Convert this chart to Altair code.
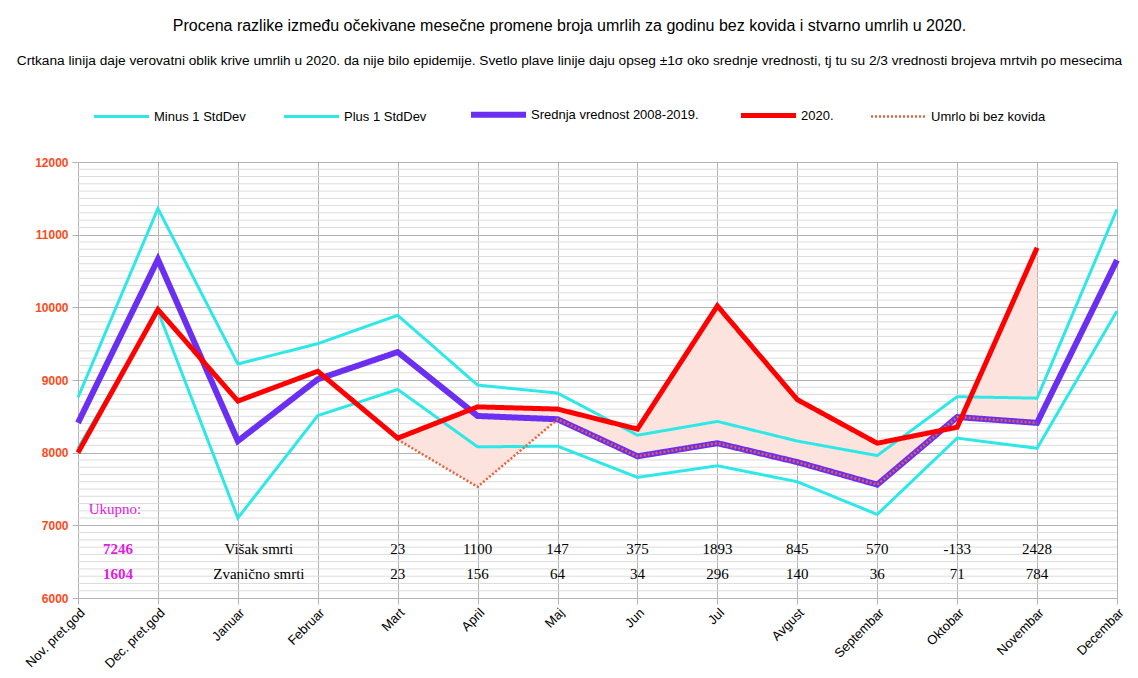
import altair as alt
import pandas as pd

months = ["Nov. pret.god", "Dec. pret.god", "Januar", "Februar", "Mart", "April", "Maj",
          "Jun", "Jul", "Avgust", "Septembar", "Oktobar", "Novembar", "Decembar"]

minus_1 = [8060, 9950, 7100, 8510, 8870, 8080, 8090, 7660, 7820, 7600, 7150, 8200, 8060, 9950]
plus_1 = [8760, 11360, 9220, 9500, 9890, 8930, 8820, 8240, 8430, 8160, 7960, 8770, 8750, 11350]
mean_0819 = [8410, 10660, 8160, 9010, 9385, 8505, 8460, 7950, 8130, 7870, 7560, 8490, 8410, 10650]
y_2020 = [8000, 9970, 8710, 9120, 8200, 8630, 8600, 8325, 10020, 8730, 8130, 8350, 10820, None]
no_covid = [None, None, None, None, 8180, 7530, 8460, 7950, 8130, 7870, 7560, 8490, 8410, None]

series_names = ["Minus 1 StdDev", "Plus 1 StdDev", "Srednja vrednost 2008-2019.", "2020.", "Umrlo bi bez kovida"]
series_values = [minus_1, plus_1, mean_0819, y_2020, no_covid]
series_colors = ["#2ee8e8", "#2ee8e8", "#6a2ff0", "#ff0000", "#e8623a"]
series_widths = [3, 3, 6, 5, 2.5]
series_dashes = [[1, 0], [1, 0], [1, 0], [1, 0], [2, 2]]
draw_order = ["Minus 1 StdDev", "Plus 1 StdDev", "Srednja vrednost 2008-2019.", "Umrlo bi bez kovida", "2020."]

table_months = ["Mart", "April", "Maj", "Jun", "Jul", "Avgust", "Septembar", "Oktobar", "Novembar"]
visak = ["23", "1100", "147", "375", "1893", "845", "570", "-133", "2428"]
zvanicno = ["23", "156", "64", "34", "296", "140", "36", "71", "784"]
totals = ["7246", "1604"]
row_labels = ["Višak smrti", "Zvanično smrti"]
row_values = [6675, 6330]

title_text = "Procena razlike između očekivane mesečne promene broja umrlih za godinu bez kovida i stvarno umrlih u 2020."
subtitle_text = ("Crtkana linija daje verovatni oblik krive umrlih u 2020. da nije bilo epidemije. "
                 "Svetlo plave linije daju opseg ±1σ oko srednje vrednosti, tj tu su 2/3 vrednosti brojeva mrtvih po mesecima")

rows = []
for name, vals in zip(series_names, series_values):
    for m, v in zip(months, vals):
        if v is not None:
            rows.append({"month": m, "value": v, "series": name})
df = pd.DataFrame(rows)

area_rows = []
for m, a, b in zip(months, y_2020, no_covid):
    if a is not None and b is not None:
        area_rows.append({"month": m, "top": a, "bottom": b})
area_df = pd.DataFrame(area_rows)

minor_df = pd.DataFrame({"g": [v for v in range(6100, 12000, 100) if v % 1000 != 0]})

text_df = pd.DataFrame({"month": table_months, "visak": visak, "zvanicno": zvanicno})
side_df = pd.DataFrame({"month": ["Nov. pret.god"] * 2, "total": totals, "yv": row_values})
side_lbl_df = pd.DataFrame({"month": ["Januar"] * 2, "label": row_labels, "yv": row_values})
ukupno_df = pd.DataFrame({"month": ["Nov. pret.god"], "label": ["Ukupno:"], "yv": [7225]})

x_enc = alt.X(
    "month:N", sort=months,
    scale=alt.Scale(domain=months, type="point", padding=0),
    axis=alt.Axis(title=None, labelAngle=-45, labelFont="Liberation Sans", labelFontSize=13,
                  labelColor="black", grid=True, gridColor="#b3b3b3", domain=False,
                  tickColor="#b3b3b3", tickSize=6, labelPadding=2),
)
y_axis = alt.Axis(
    title=None, values=list(range(6000, 12001, 1000)), tickCount=100, format="d",
    labelOverlap=False, labelFont="Liberation Sans", labelFontSize=12, labelFontWeight="bold",
    labelColor="#ff4a1a", domain=False, tickSize=6, labelPadding=4,
    gridColor="#b3b3b3", tickColor="#b3b3b3",
)
y_scale = alt.Scale(domain=[6000, 12000], nice=False, zero=False)

color_enc = alt.Color("series:N", scale=alt.Scale(domain=series_names, range=series_colors), title=None)
width_enc = alt.StrokeWidth("series:N", scale=alt.Scale(type="ordinal", domain=series_names, range=series_widths), title=None)
dash_enc = alt.StrokeDash("series:N", scale=alt.Scale(domain=series_names, range=series_dashes), title=None)

minor = alt.Chart(minor_df).mark_rule(color="#dcdcdc", strokeWidth=1).encode(
    y=alt.Y("g:Q", scale=y_scale, axis=y_axis))

area = alt.Chart(area_df).mark_area(color="#fde3dd").encode(
    x=x_enc,
    y=alt.Y("top:Q", scale=y_scale, axis=y_axis),
    y2="bottom:Q",
)

line_layers = []
for s in draw_order:
    line_layers.append(
        alt.Chart(df).transform_filter(alt.datum.series == s).mark_line(strokeJoin="miter").encode(
            x=x_enc,
            y=alt.Y("value:Q", scale=y_scale, axis=y_axis),
            color=color_enc, strokeWidth=width_enc, strokeDash=dash_enc,
        )
    )

row1 = alt.Chart(text_df).mark_text(font="Liberation Serif", fontSize=15, color="black").encode(
    x=x_enc, y=alt.Y(datum=row_values[0]), text="visak:N")
row2 = alt.Chart(text_df).mark_text(font="Liberation Serif", fontSize=15, color="black").encode(
    x=x_enc, y=alt.Y(datum=row_values[1]), text="zvanicno:N")
tot = alt.Chart(side_df).mark_text(font="Liberation Serif", fontSize=15, fontWeight="bold",
                                   color="#e020e0", dx=40).encode(
    x=x_enc, y=alt.Y("yv:Q"), text="total:N")
lbls = alt.Chart(side_lbl_df).mark_text(font="Liberation Serif", fontSize=15, color="black", dx=21).encode(
    x=x_enc, y=alt.Y("yv:Q"), text="label:N")
uk = alt.Chart(ukupno_df).mark_text(font="Liberation Serif", fontSize=15, color="#e020e0", dx=37).encode(
    x=x_enc, y=alt.Y("yv:Q"), text="label:N")

chart = alt.layer(minor, area, *line_layers, row1, row2, tot, lbls, uk).properties(
    width=1039, height=436,
    autosize=alt.AutoSizeParams(type="none"),
    padding={"left": 70, "top": 154, "right": 13, "bottom": 72},
    title=alt.TitleParams(
        text=title_text, subtitle=subtitle_text, anchor="middle", dx=-28,
        font="Liberation Sans", fontSize=16, fontWeight="normal", color="black",
        subtitleFont="Liberation Sans", subtitleFontSize=13.7, subtitleColor="black",
        subtitlePadding=20, offset=16,
    ),
).configure_view(stroke=None).configure_legend(
    orient="none", legendX=13, legendY=-78, direction="horizontal", columns=5,
    symbolType="stroke", symbolSize=3025, labelFont="Liberation Sans", labelFontSize=13,
    labelColor="black", labelOffset=2, columnPadding=32, padding=0, labelLimit=400,
)

chart.save("out.html", embed_options={"renderer": "svg", "actions": False})
